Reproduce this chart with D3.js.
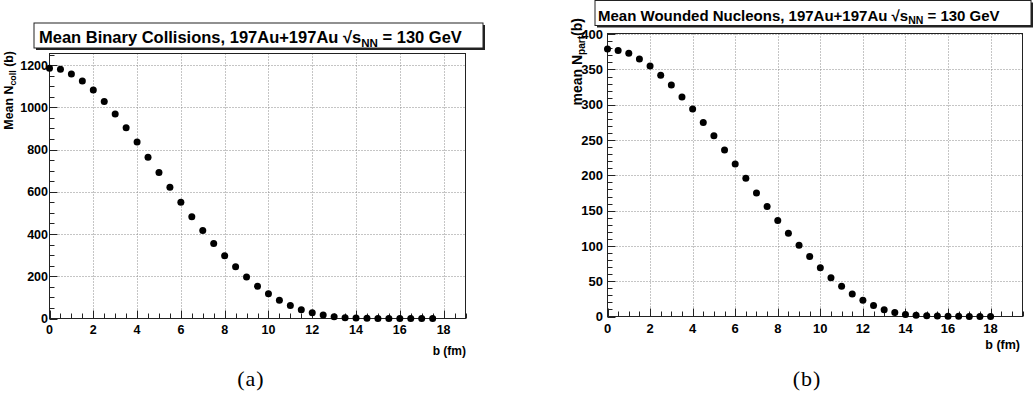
<!DOCTYPE html>
<html>
<head>
<meta charset="utf-8">
<script src="https://cdn.jsdelivr.net/npm/d3@7"></script>
<style>
  html, body { margin: 0; padding: 0; background: #fff; }
  svg { display: block; }
  text { font-family: "Liberation Sans", Arial, Helvetica, sans-serif; fill: #000; }
</style>
</head>
<body>
<svg id="chart" width="1035" height="394"></svg>
<script>
// ---------------- data ----------------
const impactA = [0,0.5,1,1.5,2,2.5,3,3.5,4,4.5,5,5.5,6,6.5,7,7.5,8,8.5,9,9.5,10,10.5,11,11.5,12,12.5,13,13.5,14,14.5,15,15.5,16,16.5,17,17.5];
const ncollValues = [1185,1180,1158,1125,1082,1028,968,903,836,764,692,621,550,482,417,355,297,245,196,153,117,87,62,41,27,16,8,4,2,1,0.5,0.3,0.2,0.1,0.05,0.02];

const impactB = [0,0.5,1,1.5,2,2.5,3,3.5,4,4.5,5,5.5,6,6.5,7,7.5,8,8.5,9,9.5,10,10.5,11,11.5,12,12.5,13,13.5,14,14.5,15,15.5,16,16.5,17,17.5,18];
const npartValues = [379,377,373,365,355,342,328,311,294,275,256,236,216,196,175,156,136,118,101,85,69,55,43,32,23,15.6,9.5,5.7,3,1.8,1,0.6,0.4,0.2,0.1,0.05,0.02];

const xTickLabels = [0,2,4,6,8,10,12,14,16,18];
const yTickLabelsA = [0,200,400,600,800,1000,1200];
const yTickLabelsB = [0,50,100,150,200,250,300,350,400];

const titleA = {main: "Mean Binary Collisions, 197Au+197Au \u221As", sub: "NN", tail: " = 130 GeV"};
const titleB = {main: "Mean Wounded Nucleons, 197Au+197Au \u221As", sub: "NN", tail: " = 130 GeV"};
const yTitleA = {pre: "Mean N", sub: "coll", post: " (b)"};
const yTitleB = {pre: "mean N", sub: "part", post: "(b)"};
const xTitle = "b (fm)";
const captions = ["(a)", "(b)"];

// ---------------- drawing ----------------
const svg = d3.select("#chart");

function panel(cfg) {
  const g = svg.append("g");
  const x = d3.scaleLinear().domain(cfg.xDomain).range([cfg.left, cfg.right]);
  const y = d3.scaleLinear().domain(cfg.yDomain).range([cfg.bottom, cfg.top]);

  // grid
  g.append("g").selectAll("line").data(cfg.xTicks.filter(d => d > 0))
    .join("line")
    .attr("x1", d => Math.round(x(d)) + 0.5).attr("x2", d => Math.round(x(d)) + 0.5)
    .attr("y1", cfg.top).attr("y2", cfg.bottom)
    .attr("stroke", "#8a8a8a").attr("stroke-width", 1).attr("stroke-dasharray", "1,2");
  g.append("g").selectAll("line").data(cfg.yTicks.filter(d => d > 0))
    .join("line")
    .attr("x1", cfg.left).attr("x2", cfg.right)
    .attr("y1", d => Math.round(y(d)) + 0.5).attr("y2", d => Math.round(y(d)) + 0.5)
    .attr("stroke", "#8a8a8a").attr("stroke-width", 1).attr("stroke-dasharray", "1,2");

  // minor / major ticks (inside, ROOT style)
  const xMinor = d3.range(cfg.xDomain[0], cfg.xDomain[1] + 1e-9, cfg.xMinorStep);
  g.append("g").selectAll("line").data(xMinor).join("line")
    .attr("x1", d => Math.round(x(d)) + 0.5).attr("x2", d => Math.round(x(d)) + 0.5)
    .attr("y1", cfg.bottom).attr("y2", d => cfg.bottom - (cfg.xTicks.includes(d) ? cfg.majorLen : cfg.minorLen))
    .attr("stroke", "#222").attr("stroke-width", 1);
  const yMinor = d3.range(cfg.yDomain[0], cfg.yDomain[1] + 1e-9, cfg.yMinorStep);
  g.append("g").selectAll("line").data(yMinor).join("line")
    .attr("y1", d => Math.round(y(d)) + 0.5).attr("y2", d => Math.round(y(d)) + 0.5)
    .attr("x1", cfg.left).attr("x2", d => cfg.left + (cfg.yTicks.includes(d) ? cfg.majorLen : cfg.minorLen))
    .attr("stroke", "#222").attr("stroke-width", 1);

  // frame
  g.append("rect")
    .attr("x", cfg.left).attr("y", cfg.top)
    .attr("width", cfg.right - cfg.left).attr("height", cfg.bottom - cfg.top)
    .attr("fill", "none").attr("stroke", "#222").attr("stroke-width", 1);

  // tick labels
  g.append("g").selectAll("text").data(cfg.xTicks).join("text")
    .attr("x", d => x(d)).attr("y", cfg.xLabelY)
    .attr("text-anchor", "middle")
    .attr("font-size", cfg.tickFont).attr("font-weight", "bold")
    .text(d => d);
  g.append("g").selectAll("text").data(cfg.yTicks).join("text")
    .attr("x", cfg.yLabelX).attr("y", d => y(d))
    .attr("dy", "0.36em")
    .attr("text-anchor", "end")
    .attr("font-size", cfg.tickFont).attr("font-weight", "bold")
    .text(d => d);

  // axis titles
  g.append("text")
    .attr("x", cfg.xTitleX).attr("y", cfg.xTitleY)
    .attr("text-anchor", "end")
    .attr("font-size", cfg.axisFont).attr("font-weight", "bold")
    .text(xTitle);

  const yt = g.append("text")
    .attr("transform", `translate(${cfg.yTitleX},${cfg.yTitleY}) rotate(-90)`)
    .attr("text-anchor", "end")
    .attr("font-size", cfg.yTitleFont).attr("font-weight", "bold");
  yt.append("tspan").text(cfg.yTitle.pre);
  yt.append("tspan").attr("font-size", cfg.yTitleFont * 0.72).attr("dy", cfg.yTitleFont * 0.25).text(cfg.yTitle.sub);
  yt.append("tspan").attr("dy", -cfg.yTitleFont * 0.25).text(cfg.yTitle.post);

  // markers
  g.append("g").selectAll("circle").data(cfg.xs.map((b, i) => [b, cfg.ys[i]])).join("circle")
    .attr("cx", d => x(d[0])).attr("cy", d => y(d[1]))
    .attr("r", cfg.markerR).attr("fill", "#000");

  // title box with shadow
  const tb = cfg.titleBox;
  g.append("rect").attr("x", tb.x + 2).attr("y", tb.y + 2).attr("width", tb.w).attr("height", tb.h).attr("fill", "#222");
  g.append("rect").attr("x", tb.x).attr("y", tb.y).attr("width", tb.w).attr("height", tb.h)
    .attr("fill", "#fff").attr("stroke", "#222").attr("stroke-width", 1);
  const tt = g.append("text").attr("x", tb.tx).attr("y", tb.ty)
    .attr("font-size", tb.font).attr("font-weight", tb.weight);
  tt.append("tspan").text(cfg.title.main);
  tt.append("tspan").attr("font-size", tb.font * 0.7).attr("dy", tb.font * 0.22).text(cfg.title.sub);
  tt.append("tspan").attr("dy", -tb.font * 0.22).text(cfg.title.tail);

  // caption
  svg.append("text")
    .attr("x", cfg.capX).attr("y", 386)
    .attr("text-anchor", "middle")
    .style("font-family", "'Liberation Serif', 'DejaVu Serif', serif")
    .attr("font-size", 22)
    .attr("letter-spacing", 1)
    .text(cfg.caption);
}

panel({
  xs: impactA, ys: ncollValues,
  xDomain: [0, 19], yDomain: [0, 1255],
  left: 49.5, right: 465.5, top: 53.5, bottom: 318.5,
  xTicks: xTickLabels, yTicks: yTickLabelsA,
  xMinorStep: 0.5, yMinorStep: 50,
  majorLen: 8, minorLen: 5,
  tickFont: 12.5, axisFont: 12, yTitleFont: 12.4,
  xLabelY: 334, yLabelX: 48,
  xTitleX: 466, xTitleY: 355,
  yTitle: yTitleA, yTitleX: 12.5, yTitleY: 51,
  markerR: 3.5,
  title: titleA,
  titleBox: {x: 34, y: 23, w: 449, h: 25, tx: 39, ty: 43, font: 16.5, weight: "bold"},
  caption: captions[0], capX: 251
});

panel({
  xs: impactB, ys: npartValues,
  xDomain: [0, 19.5], yDomain: [0, 401],
  left: 607.5, right: 1022.5, top: 33.5, bottom: 316.5,
  xTicks: xTickLabels, yTicks: yTickLabelsB,
  xMinorStep: 0.5, yMinorStep: 10,
  majorLen: 8, minorLen: 5,
  tickFont: 13, axisFont: 12.5, yTitleFont: 14,
  xLabelY: 333, yLabelX: 603,
  xTitleX: 1020, xTitleY: 349,
  yTitle: yTitleB, yTitleX: 581.5, yTitleY: 18,
  markerR: 3.5,
  title: titleB,
  titleBox: {x: 595, y: 0.5, w: 436, h: 25, tx: 598, ty: 20.5, font: 15, weight: "600"},
  caption: captions[1], capX: 807
});
</script>
</body>
</html>
